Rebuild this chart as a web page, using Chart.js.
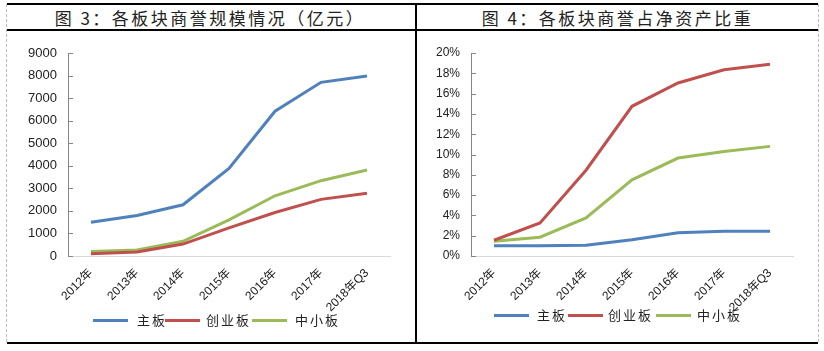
<!DOCTYPE html>
<html><head><meta charset="utf-8">
<script src="https://cdn.jsdelivr.net/npm/chart.js@4.4.0/dist/chart.umd.min.js"></script>
<style>
html,body{margin:0;padding:0;background:#fff;width:824px;height:351px;overflow:hidden;}
#wrap{position:relative;width:824px;height:351px;font-family:"Noto Sans CJK SC",sans-serif;}
.hl{position:absolute;height:0;border-top:2px solid #000;}
.vl{position:absolute;width:0;border-left:2px solid #000;}
.dl{position:absolute;width:0;border-left:1px dashed #bbb;}
.title{position:absolute;top:6px;height:24px;line-height:24px;font-size:17px;letter-spacing:2.5px;color:#222;text-align:center;white-space:nowrap;}
canvas{position:absolute;}
.lg{position:absolute;height:3px;}
.lt{position:absolute;font-size:13px;letter-spacing:2px;color:#222;line-height:16px;white-space:nowrap;}
</style></head>
<body><div id="wrap">
<div class="dl" style="left:6px;top:4px;height:338px;"></div>
<div class="dl" style="left:818px;top:4px;height:338px;"></div>
<div class="hl" style="left:7px;top:3px;width:811px;"></div>
<div class="hl" style="left:7px;top:29px;width:811px;"></div>
<div class="hl" style="left:7px;top:342px;width:811px;"></div>
<div class="vl" style="left:415px;top:3px;height:341px;"></div>
<div class="title" style="left:7px;width:406px;">图 3：各板块商誉规模情况（亿元）</div>
<div class="title" style="left:417px;width:401px;">图 4：各板块商誉占净资产比重</div>
<canvas id="c1" width="402" height="290" style="left:8px;top:32px;width:402px;height:290px;"></canvas>
<canvas id="c2" width="398" height="290" style="left:418px;top:32px;width:398px;height:290px;"></canvas>
<div id="lg1"></div><div id="lg2"></div>
</div>
<script>
const categories = ["2012年","2013年","2014年","2015年","2016年","2017年","2018年Q3"];
const seriesNames = ["主板","创业板","中小板"];
const seriesColors = ["#4F81BD","#C0504D","#9BBB59"];
// 图3 商誉规模（亿元）
const scaleMain = [1500,1800,2270,3880,6420,7700,7980];
const scaleChiNext = [100,180,530,1250,1930,2510,2780];
const scaleSME = [200,270,650,1600,2670,3340,3810];
// 图4 商誉占净资产比重（%）
const ratioMain = [1.0,1.0,1.05,1.6,2.3,2.45,2.45];
const ratioChiNext = [1.55,3.25,8.45,14.75,17.05,18.35,18.9];
const ratioSME = [1.45,1.85,3.75,7.5,9.65,10.3,10.8];
const yTicksLeft = {min:0,max:9000,step:1000};
const yTicksRight = {min:0,max:20,step:2};

const insideTicks = {
  id:'insideTicks',
  afterDatasetsDraw(chart){
    const y = chart.scales.y, ctx = chart.ctx;
    ctx.save();
    ctx.strokeStyle = '#868686'; ctx.lineWidth = 1;
    y.ticks.forEach(t=>{
      const py = Math.round(y.getPixelForValue(t.value))+0.5;
      ctx.beginPath(); ctx.moveTo(y.right, py); ctx.lineTo(y.right+5, py); ctx.stroke();
    });
    ctx.restore();
  }
};

function makeChart(id, data, yt, yWidth, padRight, fmt, yFont){
  return new Chart(document.getElementById(id), {
    type:'line',
    data:{labels:categories, datasets:data.map((d,i)=>({label:seriesNames[i], data:d, borderColor:seriesColors[i], backgroundColor:seriesColors[i], borderWidth:3, pointRadius:0, tension:0, fill:false}))},
    options:{
      responsive:false, animation:false,
      layout:{padding:{left:0,top:21,right:padRight,bottom:0}},
      plugins:{legend:{display:false}, tooltip:{enabled:false}},
      scales:{
        x:{offset:true, grid:{drawOnChartArea:false, drawTicks:false}, border:{color:'#D9D9D9', width:1},
           ticks:{minRotation:45, maxRotation:45, padding:10, color:'#222', font:{family:'"Liberation Sans", "Noto Sans CJK SC"', size:12}},
           afterFit(s){ s.height = 66; }},
        y:{min:yt.min, max:yt.max, grid:{drawOnChartArea:false, drawTicks:false}, border:{color:'#868686', width:1},
           ticks:{stepSize:yt.step, padding:11, color:'#222', font:yFont, callback:fmt},
           afterFit(s){ s.width = yWidth; }}
      }
    },
    plugins:[insideTicks]
  });
}
makeChart('c1', [scaleMain, scaleChiNext, scaleSME], yTicksLeft, 60, 20, v=>v, {family:'"Liberation Sans"', size:13});
makeChart('c2', [ratioMain, ratioChiNext, ratioSME], yTicksRight, 53, 23, v=>v+'%', {family:'"Liberation Sans Narrow", "Liberation Sans"', size:12});

function legend(el, cy, pos){
  const box = document.getElementById(el);
  pos.forEach((p,i)=>{
    const l = document.createElement('div'); l.className='lg';
    l.style.left=p[0]+'px'; l.style.top=(cy-1)+'px'; l.style.width='35px'; l.style.background=seriesColors[i];
    box.appendChild(l);
    const t = document.createElement('div'); t.className='lt';
    t.style.left=p[1]+'px'; t.style.top=(cy-8)+'px'; t.textContent=seriesNames[i];
    box.appendChild(t);
  });
}
legend('lg1', 320, [[93,137],[165,206],[252,295]]);
legend('lg2', 315, [[494,537],[568,608],[656,697]]);
</script>
</body></html>
